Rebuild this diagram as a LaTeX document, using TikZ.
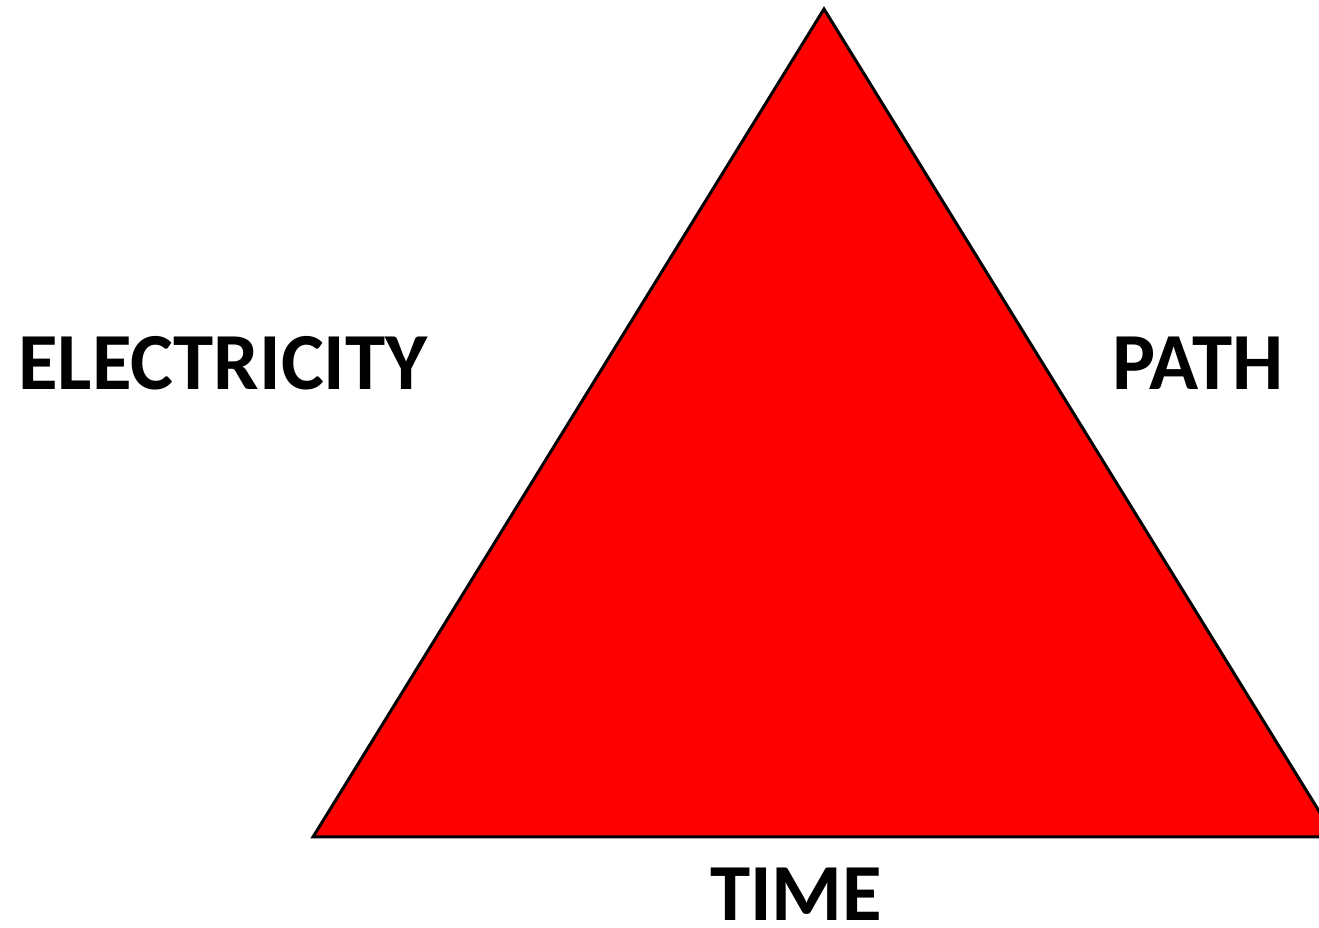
\documentclass[tikz,border=0pt]{standalone}
\usepackage{fontspec}
\setmainfont{Carlito}
\begin{document}
\begin{tikzpicture}[x=1pt,y=1pt,
  lbl/.style={font=\bfseries\fontsize{81}{81}\selectfont, anchor=base, inner sep=0pt}]
\useasboundingbox (0,0) rectangle (1319,928);
\begin{scope}
\clip (0,0) rectangle (1319,928);
\coordinate (apex) at (824,919);
\coordinate (bl) at (313,91);
\coordinate (br) at (1335,91);
\draw[line width=3pt, fill={rgb,255:red,255;green,0;blue,0}, line join=miter] (apex) -- (br) -- (bl) -- cycle;
\end{scope}
\node[lbl] (elec) at (223,538) {ELECTRICITY};
\node[lbl] (path) at (1198,538) {PATH};
\node[lbl] (time) at (796,7) {TIME};
\end{tikzpicture}
\end{document}
